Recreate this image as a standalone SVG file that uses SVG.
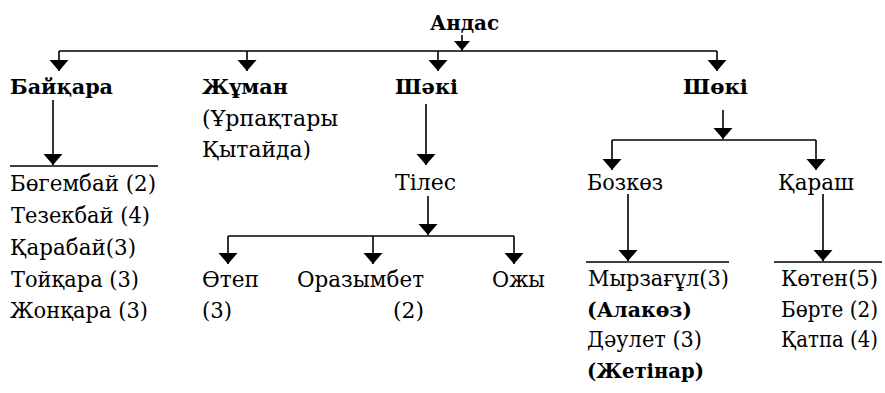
<svg xmlns="http://www.w3.org/2000/svg" width="885" height="393" viewBox="0 0 885 393">
<defs>
<marker id="ah" markerUnits="userSpaceOnUse" markerWidth="11" markerHeight="20" viewBox="0 -10 11 20" refX="11" refY="0" orient="auto"><path d="M0,-9.5 L11,0 L0,9.5 z" fill="#000"/></marker>
<marker id="ahs" markerUnits="userSpaceOnUse" markerWidth="10" markerHeight="18" viewBox="0 -9 10 18" refX="10" refY="0" orient="auto"><path d="M0,-8 L9.5,0 L0,8 z" fill="#000"/></marker>
</defs>
<rect width="885" height="393" fill="#fff"/>
<g id="connectors" fill="none" stroke="#000" stroke-width="1.6">
<path d="M462,35 V51" marker-end="url(#ahs)"/>
<path d="M59,51 H717"/>
<path d="M59,51 V71" marker-end="url(#ah)"/>
<path d="M247,51 V71" marker-end="url(#ah)"/>
<path d="M438,51 V71" marker-end="url(#ah)"/>
<path d="M717,51 V71" marker-end="url(#ah)"/>
<path d="M53,100 V165" marker-end="url(#ah)"/>
<path d="M10,166 H158"/>
<path d="M426,104 V165" marker-end="url(#ah)"/>
<path d="M428,196 V235" marker-end="url(#ah)"/>
<path d="M228,236 H514"/>
<path d="M228,236 V264" marker-end="url(#ah)"/>
<path d="M373,236 V264" marker-end="url(#ah)"/>
<path d="M514,236 V264" marker-end="url(#ah)"/>
<path d="M723,110 V139" marker-end="url(#ah)"/>
<path d="M612,140 H816"/>
<path d="M612,140 V170" marker-end="url(#ah)"/>
<path d="M816,140 V170" marker-end="url(#ah)"/>
<path d="M628,194 V261" marker-end="url(#ah)"/>
<path d="M586,262 H729"/>
<path d="M823,194 V261" marker-end="url(#ah)"/>
<path d="M774,262 H882"/>
</g>
<g id="andas"><text font-family="DejaVu Serif" font-size="21" font-weight="bold" x="430" y="30" textLength="69" lengthAdjust="spacingAndGlyphs">Андас</text></g>
<g id="baiqara"><text font-family="DejaVu Serif" font-size="21" font-weight="bold" x="10" y="94" textLength="103" lengthAdjust="spacingAndGlyphs">Байқара</text></g>
<g id="baiqara-list">
<text font-family="DejaVu Serif" font-size="22" x="10" y="191" textLength="146" lengthAdjust="spacingAndGlyphs">Бөгембай (2)</text>
<text font-family="DejaVu Serif" font-size="22" x="11" y="223" textLength="139" lengthAdjust="spacingAndGlyphs">Тезекбай (4)</text>
<text font-family="DejaVu Serif" font-size="22" x="10" y="255" textLength="126" lengthAdjust="spacingAndGlyphs">Қарабай(3)</text>
<text font-family="DejaVu Serif" font-size="22" x="11" y="287" textLength="128" lengthAdjust="spacingAndGlyphs">Тойқара (3)</text>
<text font-family="DejaVu Serif" font-size="22" x="10" y="318" textLength="138" lengthAdjust="spacingAndGlyphs">Жонқара (3)</text>
</g>
<g id="zhuman">
<text font-family="DejaVu Serif" font-size="21" font-weight="bold" x="202" y="94" textLength="86" lengthAdjust="spacingAndGlyphs">Жұман</text>
<text font-family="DejaVu Serif" font-size="22" x="202" y="126" textLength="136" lengthAdjust="spacingAndGlyphs">(Ұрпақтары</text>
<text font-family="DejaVu Serif" font-size="22" x="202" y="157" textLength="109" lengthAdjust="spacingAndGlyphs">Қытайда)</text>
</g>
<g id="shaki"><text font-family="DejaVu Serif" font-size="21" font-weight="bold" x="395" y="94" textLength="63" lengthAdjust="spacingAndGlyphs">Шәкі</text></g>
<g id="tiles"><text font-family="DejaVu Serif" font-size="22" x="395" y="190" textLength="61" lengthAdjust="spacingAndGlyphs">Тілес</text></g>
<g id="otep"><text font-family="DejaVu Serif" font-size="22" x="202" y="287" textLength="57" lengthAdjust="spacingAndGlyphs">Өтеп</text><text font-family="DejaVu Serif" font-size="22" x="202" y="318" textLength="30" lengthAdjust="spacingAndGlyphs">(3)</text></g>
<g id="orazymbet"><text font-family="DejaVu Serif" font-size="22" x="297" y="287" textLength="127" lengthAdjust="spacingAndGlyphs">Оразымбет</text><text font-family="DejaVu Serif" font-size="22" x="393" y="318" textLength="31" lengthAdjust="spacingAndGlyphs">(2)</text></g>
<g id="ozhy"><text font-family="DejaVu Serif" font-size="22" x="492" y="287" textLength="53" lengthAdjust="spacingAndGlyphs">Ожы</text></g>
<g id="shoki"><text font-family="DejaVu Serif" font-size="21" font-weight="bold" x="683" y="94" textLength="65" lengthAdjust="spacingAndGlyphs">Шөкі</text></g>
<g id="bozkoz"><text font-family="DejaVu Serif" font-size="22" x="587" y="190" textLength="76" lengthAdjust="spacingAndGlyphs">Бозкөз</text></g>
<g id="qarash"><text font-family="DejaVu Serif" font-size="22" x="778" y="190" textLength="76" lengthAdjust="spacingAndGlyphs">Қараш</text></g>
<g id="bozkoz-list">
<text font-family="DejaVu Serif" font-size="22" x="588" y="286" textLength="141" lengthAdjust="spacingAndGlyphs">Мырзағұл(3)</text>
<text font-family="DejaVu Serif" font-size="21" font-weight="bold" x="587" y="317" textLength="105" lengthAdjust="spacingAndGlyphs">(Алакөз)</text>
<text font-family="DejaVu Serif" font-size="22" x="587" y="347" textLength="115" lengthAdjust="spacingAndGlyphs">Дәулет (3)</text>
<text font-family="DejaVu Serif" font-size="21" font-weight="bold" x="587" y="378" textLength="117" lengthAdjust="spacingAndGlyphs">(Жетінар)</text>
</g>
<g id="qarash-list">
<text font-family="DejaVu Serif" font-size="22" x="781" y="286" textLength="97" lengthAdjust="spacingAndGlyphs">Көтен(5)</text>
<text font-family="DejaVu Serif" font-size="22" x="781" y="317" textLength="97" lengthAdjust="spacingAndGlyphs">Бөрте (2)</text>
<text font-family="DejaVu Serif" font-size="22" x="781" y="347" textLength="97" lengthAdjust="spacingAndGlyphs">Қатпа (4)</text>
</g>
</svg>
